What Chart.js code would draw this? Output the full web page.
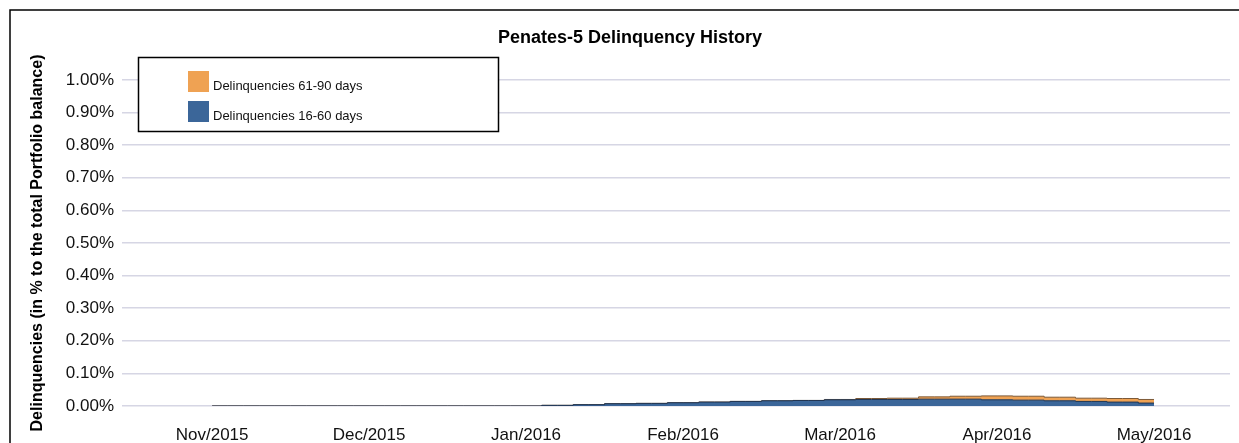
<!DOCTYPE html>
<html>
<head>
<meta charset="utf-8">
<script src="https://cdn.jsdelivr.net/npm/chart.js@4.4.1/dist/chart.umd.min.js"></script>
<style>
  html, body { margin: 0; padding: 0; background: #fff; }
  #wrap { position: relative; width: 1239px; height: 443px; }
</style>
</head>
<body>
<div id="wrap"><canvas id="chart" width="1239" height="443"></canvas></div>
<script>
const chartTitle = 'Penates-5 Delinquency History';
// weekly points, month label every 5th point
const categories = [
  'Nov/2015', '', '', '', '',
  'Dec/2015', '', '', '', '',
  'Jan/2016', '', '', '', '',
  'Feb/2016', '', '', '', '',
  'Mar/2016', '', '', '', '',
  'Apr/2016', '', '', '', '',
  'May/2016'
];
// values in % of total portfolio balance
const del16to60 = [
  0, 0, 0, 0, 0,
  0, 0, 0, 0, 0,
  0, 0.002, 0.004, 0.007, 0.008,
  0.010, 0.012, 0.014, 0.016, 0.017,
  0.019, 0.020, 0.020, 0.021, 0.021,
  0.019, 0.018, 0.016, 0.014, 0.012,
  0.009
];
const del61to90 = [
  0, 0, 0, 0, 0,
  0, 0, 0, 0, 0,
  0, 0, 0, 0, 0,
  0, 0, 0, 0, 0,
  0.001, 0.003, 0.004, 0.007, 0.009,
  0.012, 0.012, 0.011, 0.010, 0.011,
  0.011
];
const yTicks = [0, 0.1, 0.2, 0.3, 0.4, 0.5, 0.6, 0.7, 0.8, 0.9, 1.0];

const toPoints = arr => arr.map((v, i) => ({ x: i, y: v }));
const FONT = '"Liberation Sans", Arial, sans-serif';

// frame, title and legend box drawn on the canvas
const decor = {
  id: 'decor',
  beforeDraw(chart) {
    const ctx = chart.ctx;
    ctx.save();
    ctx.fillStyle = '#fff';
    ctx.fillRect(0, 0, chart.width, chart.height);
    ctx.strokeStyle = '#000';
    ctx.lineWidth = 1.5;
    ctx.beginPath();
    ctx.moveTo(10, chart.height);
    ctx.lineTo(10, 10);
    ctx.lineTo(chart.width, 10);
    ctx.stroke();
    ctx.fillStyle = '#000';
    ctx.font = 'bold 18px ' + FONT;
    ctx.textAlign = 'center';
    ctx.textBaseline = 'middle';
    ctx.fillText(chartTitle, 630, 38);
    ctx.restore();
  },
  afterDraw(chart) {
    const ctx = chart.ctx;
    const ds = chart.data.datasets;
    ctx.save();
    ctx.fillStyle = '#fff';
    ctx.fillRect(138, 57, 360, 74);
    ctx.strokeStyle = '#000';
    ctx.lineWidth = 1.5;
    ctx.strokeRect(138.5, 57.5, 360, 74);
    ctx.font = '13px ' + FONT;
    ctx.textBaseline = 'middle';
    // legend lists top series first
    [ds[1], ds[0]].forEach((d, i) => {
      const y = 71 + i * 30;
      ctx.fillStyle = d.backgroundColor;
      ctx.fillRect(188, y, 21, 21);
      ctx.fillStyle = '#111';
      ctx.fillText(d.label, 213, y + 15);
    });
    ctx.restore();
  }
};

new Chart(document.getElementById('chart'), {
  type: 'line',
  data: {
    datasets: [{
      label: 'Delinquencies 16-60 days',
      data: toPoints(del16to60),
      backgroundColor: '#3b6699',
      borderColor: '#1f3452',
      borderWidth: 1,
      fill: 'origin',
      stepped: 'middle',
      pointRadius: 0
    }, {
      label: 'Delinquencies 61-90 days',
      data: toPoints(del61to90),
      backgroundColor: '#efa253',
      borderColor: '#7d5a38',
      borderWidth: 1,
      fill: '-1',
      stepped: 'middle',
      pointRadius: 0
    }]
  },
  options: {
    responsive: false,
    animation: false,
    layout: { padding: { left: 0, right: 9, top: 80, bottom: 0 } },
    plugins: {
      legend: { display: false },
      tooltip: { enabled: false },
      title: { display: false }
    },
    scales: {
      x: {
        type: 'linear',
        min: -2.87,
        max: 32.42,
        grid: { display: false },
        border: { display: false },
        afterBuildTicks: scale => {
          scale.ticks = categories
            .map((c, i) => ({ value: i, label: c }))
            .filter(t => t.label !== '');
        },
        afterFit: scale => { scale.height = 37; },
        ticks: {
          autoSkip: false,
          maxRotation: 0,
          padding: 11,
          color: '#111',
          font: { family: FONT, size: 17 },
          callback: v => categories[v]
        }
      },
      y: {
        stacked: true,
        min: 0,
        max: 1,
        afterBuildTicks: scale => {
          scale.ticks = yTicks.map(v => ({ value: v }));
        },
        afterFit: scale => { scale.width = 122; },
        grid: { color: '#d6d6e4', lineWidth: 1.5, drawTicks: false },
        border: { display: false },
        ticks: {
          padding: 8,
          color: '#111',
          font: { family: FONT, size: 17 },
          callback: v => v.toFixed(2) + '%'
        },
        title: {
          display: true,
          text: 'Delinquencies (in % to the total Portfolio balance)',
          color: '#000',
          font: { family: FONT, size: 16, weight: 'bold' },
          padding: { top: 28, bottom: 0 }
        }
      }
    }
  },
  plugins: [decor]
});
</script>
</body>
</html>
